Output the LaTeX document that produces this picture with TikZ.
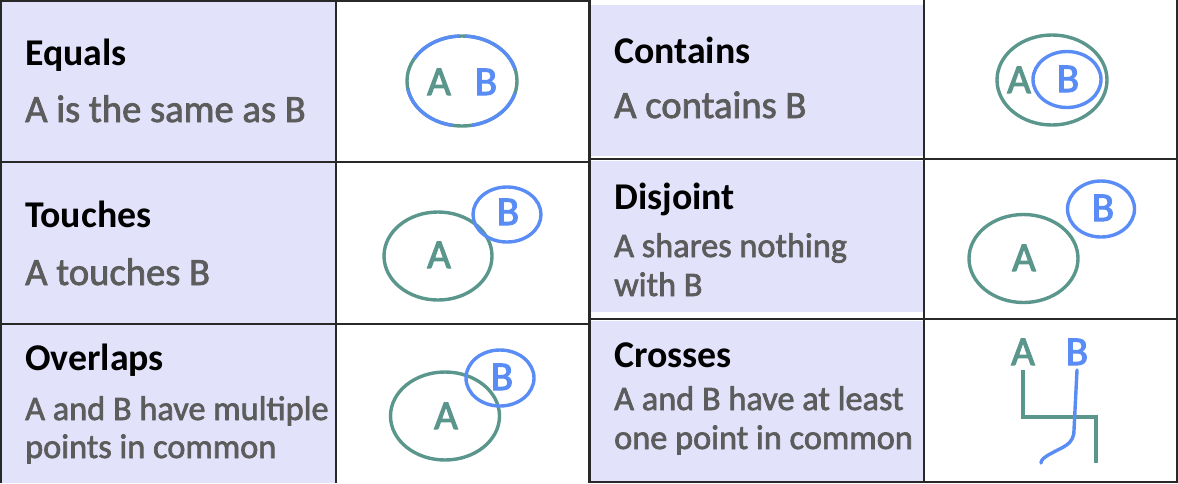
\documentclass[tikz,border=0pt]{standalone}
\usepackage{fontspec}
\setmainfont{Carlito}
\newfontfamily\relfont[FakeBold=2]{Carlito}
\newfontfamily\setfont[FakeBold=2.5]{Carlito}
\usetikzlibrary{positioning}
\definecolor{relteal}{RGB}{90,150,140}
\definecolor{relblue}{RGB}{90,140,245}
\definecolor{relcell}{RGB}{226,226,250}
\definecolor{relgrey}{RGB}{92,92,92}
\definecolor{relrule}{RGB}{40,40,40}

\begin{document}
\begin{tikzpicture}[x=1pt, y=-1pt,
    reltitle/.style={anchor=base west, inner sep=0pt, font=\fontsize{37.8}{40}\selectfont\bfseries},
    reltext/.style={anchor=base west, inner sep=0pt, text=relgrey, font=\relfont\fontsize{38.6}{40}\selectfont},
    reltextsmall/.style={reltext, font=\relfont\fontsize{34.3}{38}\selectfont},
    seta/.style={draw=relteal, line width=3.4pt},
    setb/.style={draw=relblue, line width=3.4pt},
    lettera/.style={anchor=base, inner sep=0pt, text=relteal, font=\setfont\fontsize{41}{41}\selectfont},
    letterb/.style={anchor=base, inner sep=0pt, text=relblue, font=\setfont\fontsize{41}{41}\selectfont},
    tabrule/.style={draw=relrule, line width=1.5pt}]
    \useasboundingbox (0,0) rectangle (1178,483);

    % Shaded name column of both tables
    \fill[relcell] (1,1) rectangle (336,483);
    \fill[relcell] (590,5) rectangle (924,156);
    \fill[relcell] (590,161) rectangle (924,312);
    \fill[relcell] (590,321) rectangle (924,481);

    % Table rules
    \draw[tabrule] (1,483) -- (1,1) -- (589,1) -- (589,483);
    \draw[tabrule] (336,1) -- (336,483);
    \draw[tabrule] (1,162) -- (589,162);
    \draw[tabrule] (1,324) -- (589,324);
    \draw[tabrule] (590,0) -- (590,482) -- (1177,482) -- (1177,0);
    \draw[tabrule] (924,0) -- (924,482);
    \draw[tabrule] (590,159) -- (1178,159);
    \draw[tabrule] (590,319) -- (1178,319);

    % Names and descriptions, left table
    \node[reltitle] (equals) at (25,65) {Equals};
    \node[reltext] (equalsd) at (25,122) {A is the same as B};
    \node[reltitle] (touches) at (25,227) {Touches};
    \node[reltext] (touchesd) at (25,285) {A touches B};
    \node[reltitle] (overlaps) at (25,370) {Overlaps};
    \node[reltextsmall] (overlapsd) at (25,420) {A and B have multiple};
    \node[reltextsmall] (overlapse) at (25,458) {points in common};

    % Names and descriptions, right table
    \node[reltitle] (contains) at (614,63) {Contains};
    \node[reltext] (containsd) at (614,118) {A contains B};
    \node[reltitle] (disjoint) at (614,209) {Disjoint};
    \node[reltextsmall] (disjointd) at (614,257) {A shares nothing};
    \node[reltextsmall] (disjointe) at (614,296) {with B};
    \node[reltitle] (crosses) at (614,367) {Crosses};
    \node[reltextsmall] (crossesd) at (614,410) {A and B have at least};
    \node[reltextsmall] (crossese) at (614,449) {one point in common};

    % Equals: one outline in both colours
    \coordinate (eqset) at (462,81);
    \draw[seta] (eqset) ellipse [x radius=55, y radius=45];
    \foreach \a/\b in {-15/-87, -93/-150, -190/-260, -280/-345}
        \draw[setb] (eqset) ++(\a:55 and 45) arc [start angle=\a, end angle=\b, x radius=55, y radius=45];
    \node[lettera] (eqa) at (439,95) {A};
    \node[letterb] (eqb) at (486,95) {B};

    % Contains
    \coordinate (cta) at (1052,80);
    \coordinate (ctb) at (1067,79.5);
    \draw[seta] (cta) ellipse [x radius=55, y radius=45];
    \draw[setb] (ctb) ellipse [x radius=34, y radius=28];
    \node[lettera] (cona) at (1019,93) {A};
    \node[letterb] (conb) at (1068,92) {B};

    % Touches
    \coordinate (tca) at (438,256);
    \coordinate (tcb) at (507,214.5);
    \draw[seta] (tca) ellipse [x radius=54, y radius=44];
    \draw[setb] (tcb) ellipse [x radius=34, y radius=27.5];
    \node[lettera] (toua) at (439,268) {A};
    \node[letterb] (toub) at (508,225) {B};

    % Disjoint
    \coordinate (dja) at (1023.5,258.5);
    \coordinate (djb) at (1101,209);
    \draw[seta] (dja) ellipse [x radius=54.5, y radius=44];
    \draw[setb] (djb) ellipse [x radius=33.5, y radius=28];
    \node[lettera] (disa) at (1024,271) {A};
    \node[letterb] (disb) at (1103,221) {B};

    % Overlaps
    \coordinate (ova) at (445,416);
    \coordinate (ovb) at (500,378);
    \draw[seta] (ova) ellipse [x radius=54.5, y radius=44];
    \draw[setb] (ovb) ellipse [x radius=34, y radius=28];
    \node[lettera] (ovla) at (446,429) {A};
    \node[letterb] (ovlb) at (502,390) {B};

    % Crosses: two lines that cross once
    \node[lettera] (cra) at (1023,365) {A};
    \node[letterb] (crb) at (1077,365) {B};
    \coordinate (craend) at (1096,463);
    \coordinate (crbend) at (1041,463);
    \draw[seta] (cra.south |- 0,370) -- (1023,417) -- (1096,417) -- (craend);
    \draw[setb, line cap=round] (crb.south |- 0,370) -- (1074,430)
        .. controls (1074,445) and (1062,447) .. (1052,453)
        .. controls (1044,457) and (1041,460) .. (crbend);
\end{tikzpicture}
\end{document}
